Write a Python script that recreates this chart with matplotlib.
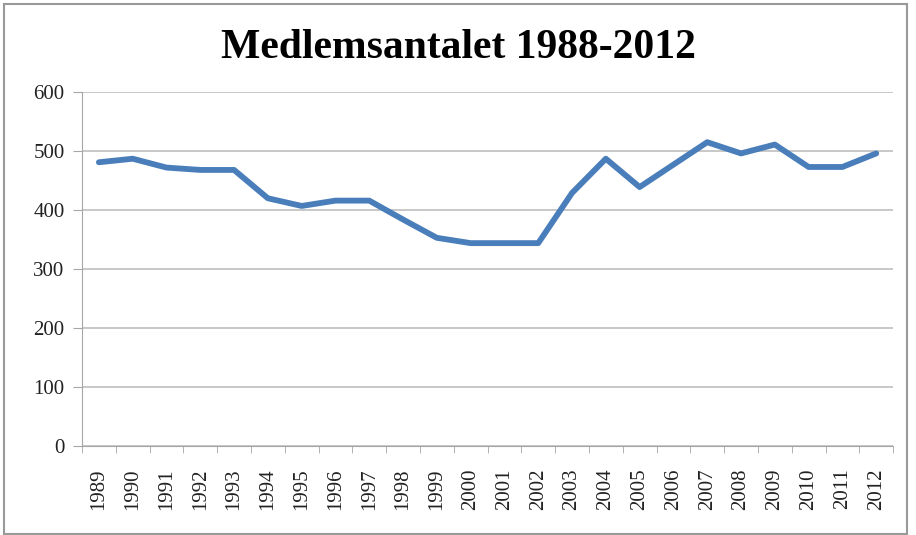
import numpy as np
import matplotlib.pyplot as plt
from matplotlib.patches import Rectangle

years = ['1989', '1990', '1991', '1992', '1993', '1994', '1995', '1996',
         '1997', '1998', '1999', '2000', '2001', '2002', '2003', '2004',
         '2005', '2006', '2007', '2008', '2009', '2010', '2011', '2012']
members = [481, 487, 472, 468, 468, 420, 407, 416, 416, 384, 353, 344,
           344, 344, 429, 487, 439, 477, 515, 496, 511, 473, 473, 496]
yticks = [0, 100, 200, 300, 400, 500, 600]

fig = plt.figure(figsize=(9.16, 5.35), dpi=100)
ax = fig.add_axes([0.0895, 0.166, 0.8855, 0.662])

x = np.arange(len(years))
ax.plot(x, members, color='#4A7EBB', linewidth=4.2, solid_joinstyle='round',
        solid_capstyle='round', zorder=3)

ax.set_xlim(-0.5, len(years) - 0.5)
ax.set_ylim(0, 600)
ax.set_yticks(yticks)
ax.set_yticklabels([str(v) for v in yticks], fontfamily='Liberation Serif', fontsize=15,
                   color='#222222')
ax.set_xticks(x)
ax.set_xticklabels(years, rotation=90, fontfamily='Liberation Serif', fontsize=15,
                   color='#222222')
ax.set_xticks(np.arange(len(years) + 1) - 0.5, minor=True)
ax.tick_params(axis='x', which='major', length=0, pad=16)
ax.tick_params(axis='x', which='minor', length=5, color='#A6A6A6')
ax.tick_params(axis='y', length=6.5, color='#A6A6A6', pad=6)

ax.grid(axis='y', color='#BFBFBF', linewidth=1.2)
ax.set_axisbelow(True)
for s in ['top', 'right']:
    ax.spines[s].set_visible(False)
ax.spines['left'].set_color('#A6A6A6')
ax.spines['bottom'].set_color('#A6A6A6')

fig.text(0.5, 0.91, 'Medlemsantalet 1988-2012', ha='center', va='center',
         fontfamily='Liberation Serif', fontweight='bold', fontsize=30)

fig.patches.append(Rectangle((0.004, 0.002), 0.986, 0.99, transform=fig.transFigure,
                             fill=False, edgecolor='#999999', linewidth=1.5))

plt.savefig('out.png', dpi=100)
plt.close()
